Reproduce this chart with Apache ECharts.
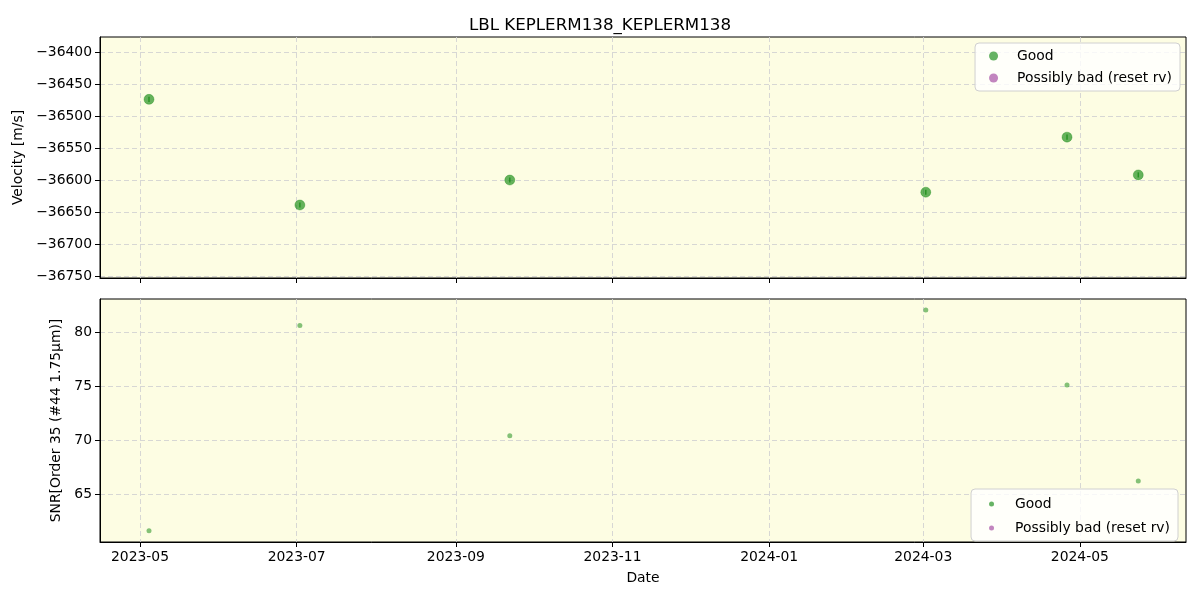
<!DOCTYPE html>
<html><head><meta charset="utf-8">
<script src="https://cdn.jsdelivr.net/npm/echarts@6/dist/echarts.min.js"></script>
<style>html,body{margin:0;padding:0;background:#fff}#c{width:1200px;height:600px}</style>
</head><body><div id="c"></div>
<script>
const dates = ['2023-05-04 12:00','2023-07-02 06:00','2023-09-22 00:00','2024-03-02 00:00','2024-04-26 00:00','2024-05-23 18:00'];
const velocity = [-36474, -36639, -36600, -36619, -36533, -36592];
const velErr = [4, 4, 4, 4, 4, 4];
const snr = [61.6, 80.6, 70.4, 82.05, 75.1, 66.2];
const xTicks = ['2023-05-01','2023-07-01','2023-09-01','2023-11-01','2024-01-01','2024-03-01','2024-05-01'];
const velTicks = [-36750,-36700,-36650,-36600,-36550,-36500,-36450,-36400];
const snrTicks = [65,70,75,80];

const FONT = 'DejaVu Sans';
const GREEN = 'rgba(0,128,0,0.6)';
const PURPLE = 'rgba(128,0,128,0.6)';
const BG = '#fdfde3';
const fs = 13.9;
const minus = v => String(v).replace('-', '\u2212');
const toTs = s => new Date(s.length > 10 ? s.replace(' ', 'T') + ':00Z' : s + 'T00:00:00Z').getTime();
const xTickTs = xTicks.map(toTs);
const xMin = toTs('2023-04-15 10:00');
const xMax = toTs('2024-06-11 08:00');
const dataTs = dates.map(toTs);

const splitLine = {show: true, lineStyle: {color: '#d3d3d3', type: [5, 3], width: 0.9}};
const axisLine = {show: true, onZero: false, lineStyle: {color: '#000', width: 1}};
const axisTick = {show: true, length: 5, lineStyle: {color: '#000'}};
function xAxis(idx, showLabels) {
  return {
    type: 'value', gridIndex: idx, min: xMin, max: xMax, scale: true,
    axisLine, splitLine,
    axisTick: Object.assign({customValues: xTickTs}, axisTick),
    axisLabel: {show: showLabels, customValues: xTickTs, color: '#000', fontFamily: FONT, fontSize: fs, margin: 8,
      formatter: v => { const d = new Date(v); return d.getUTCFullYear() + '-' + String(d.getUTCMonth() + 1).padStart(2, '0'); }},
    name: showLabels ? 'Date' : '', nameLocation: 'middle', nameGap: 29,
    nameTextStyle: {color: '#000', fontFamily: FONT, fontSize: fs}
  };
}
const legendData = [
  {name: 'Good', icon: 'circle', itemStyle: {color: GREEN}},
  {name: 'Possibly bad (reset rv)', icon: 'circle', itemStyle: {color: PURPLE}}
];
const chart = echarts.init(document.getElementById('c'));
chart.setOption({
  animation: false,
  backgroundColor: '#fff',
  title: {text: 'LBL KEPLERM138_KEPLERM138', left: 'center', top: 12,
    textStyle: {fontFamily: FONT, fontSize: 16.7, fontWeight: 'normal', color: '#000'}},
  grid: [
    {left: 100, top: 37, width: 1086, height: 241, show: true, backgroundColor: BG, borderColor: '#000', borderWidth: 1},
    {left: 100, top: 299, width: 1086, height: 243, show: true, backgroundColor: BG, borderColor: '#000', borderWidth: 1}
  ],
  xAxis: [xAxis(0, false), xAxis(1, true)],
  yAxis: [
    {type: 'value', gridIndex: 0, min: -36753, max: -36376.6, axisLine, splitLine,
      axisTick: Object.assign({customValues: velTicks}, axisTick),
      axisLabel: {customValues: velTicks, formatter: minus, color: '#000', fontFamily: FONT, fontSize: fs, margin: 8},
      name: 'Velocity [m/s]', nameLocation: 'middle', nameGap: 74,
      nameTextStyle: {color: '#000', fontFamily: FONT, fontSize: fs}},
    {type: 'value', gridIndex: 1, min: 60.56, max: 83.06, axisLine, splitLine,
      axisTick: Object.assign({customValues: snrTicks}, axisTick),
      axisLabel: {customValues: snrTicks, color: '#000', fontFamily: FONT, fontSize: fs, margin: 8},
      name: 'SNR[Order 35 (#44 1.75\u03bcm)]', nameLocation: 'middle', nameGap: 36,
      nameTextStyle: {color: '#000', fontFamily: FONT, fontSize: fs}}
  ],
  legend: [
    {orient: 'vertical', right: 20, top: 43, itemWidth: 9, itemHeight: 9, itemGap: 8,
      padding: [6, 8, 6, 14], backgroundColor: 'rgba(255,255,255,0.8)', borderColor: '#d0d0d0', borderWidth: 1, borderRadius: 4,
      textStyle: {fontFamily: FONT, fontSize: fs, color: '#000', padding: [0, 0, 0, 14]},
      data: legendData},
    {orient: 'vertical', right: 22, top: 489, itemWidth: 5, itemHeight: 5, itemGap: 10,
      padding: [8, 8, 6, 18], backgroundColor: 'rgba(255,255,255,0.8)', borderColor: '#d0d0d0', borderWidth: 1, borderRadius: 4,
      textStyle: {fontFamily: FONT, fontSize: fs, color: '#000', padding: [0, 0, 0, 16]},
      data: legendData}
  ],
  series: [
    {name: 'Good', type: 'custom', xAxisIndex: 0, yAxisIndex: 0, itemStyle: {color: GREEN},
      data: dataTs.map((t, i) => [t, velocity[i], velErr[i]]),
      renderItem: (params, api) => {
        const x = api.value(0), y = api.value(1), e = api.value(2);
        const p1 = api.coord([x, y - e]), p2 = api.coord([x, y + e]);
        return {type: 'line', shape: {x1: p1[0], y1: p1[1], x2: p2[0], y2: p2[1]}, style: {stroke: GREEN, lineWidth: 1.5}};
      }, z: 3},
    {name: 'Good', type: 'scatter', xAxisIndex: 0, yAxisIndex: 0, symbolSize: 10,
      itemStyle: {color: GREEN, borderColor: GREEN, borderWidth: 0.5, opacity: 1},
      data: dataTs.map((t, i) => [t, velocity[i]]), z: 4},
    {name: 'Possibly bad (reset rv)', type: 'scatter', xAxisIndex: 0, yAxisIndex: 0, symbolSize: 10,
      itemStyle: {color: PURPLE}, data: []},
    {name: 'Good', type: 'scatter', xAxisIndex: 1, yAxisIndex: 1, symbolSize: 5,
      itemStyle: {color: GREEN}, data: dataTs.map((t, i) => [t, snr[i]])},
    {name: 'Possibly bad (reset rv)', type: 'scatter', xAxisIndex: 1, yAxisIndex: 1, symbolSize: 5,
      itemStyle: {color: PURPLE}, data: []}
  ]
});
</script></body></html>
